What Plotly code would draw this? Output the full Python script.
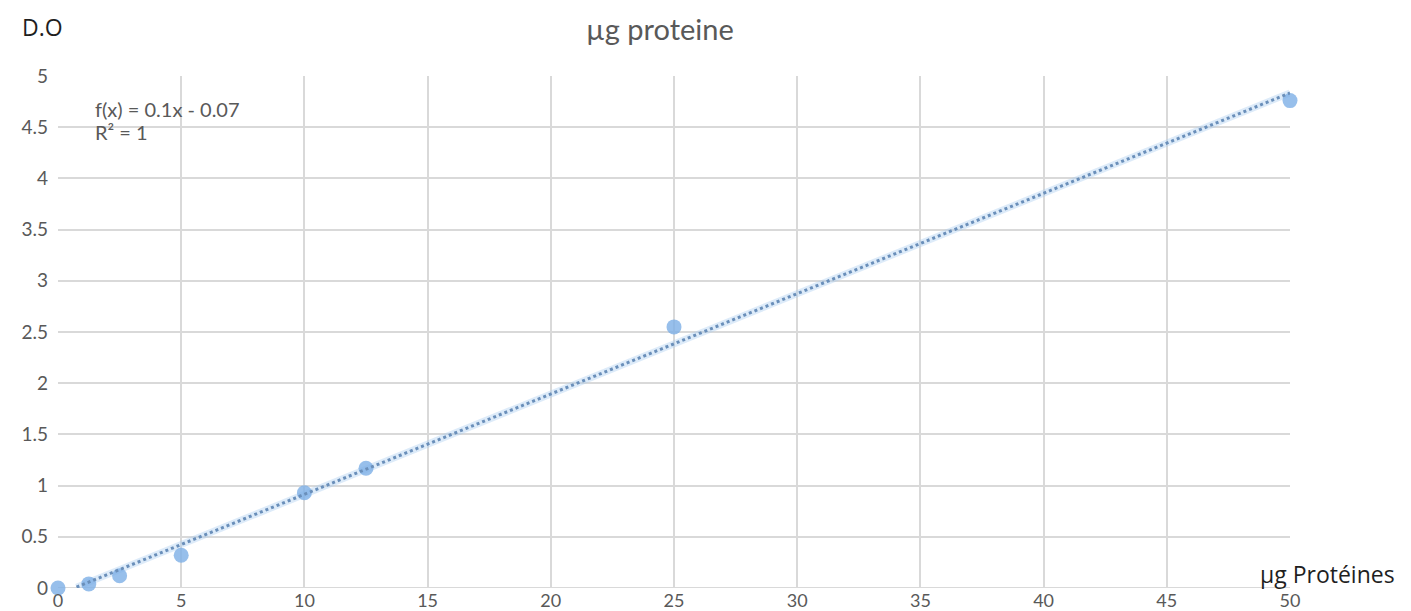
import numpy as np
import plotly.graph_objects as go

x_vals = [0, 1.25, 2.5, 5, 10, 12.5, 25, 50]
y_vals = [0.0, 0.04, 0.12, 0.32, 0.93, 1.17, 2.55, 4.76]
x_ticks = [0, 5, 10, 15, 20, 25, 30, 35, 40, 45, 50]
y_ticks = [0, 0.5, 1, 1.5, 2, 2.5, 3, 3.5, 4, 4.5, 5]

slope, intercept = np.polyfit(x_vals, y_vals, 1)
x_fit = np.linspace(min(x_vals), max(x_vals), 400)
y_fit = slope * x_fit + intercept
mask = y_fit >= 0
x_fit, y_fit = x_fit[mask], y_fit[mask]

fig = go.Figure()
fig.add_trace(go.Scatter(x=x_fit, y=y_fit, mode="lines",
                         line=dict(color="rgba(170,205,240,0.4)", width=7),
                         showlegend=False, hoverinfo="skip"))
fig.add_trace(go.Scatter(x=x_vals, y=y_vals, mode="markers",
                         marker=dict(size=15, color="rgba(125,175,230,0.8)", line=dict(width=0)),
                         showlegend=False, cliponaxis=False))
fig.add_trace(go.Scatter(x=x_fit, y=y_fit, mode="lines",
                         line=dict(color="#6a8fba", width=3, dash="dot"),
                         showlegend=False))

fig.update_layout(
    width=1411, height=611,
    margin=dict(l=50, r=129, t=68, b=31, autoexpand=False),
    paper_bgcolor="white", plot_bgcolor="white",
    font=dict(family="Lato", color="#595959", size=19),
)
fig.update_xaxes(range=[0, 50], tickvals=x_ticks, ticktext=[str(t) for t in x_ticks],
                 showgrid=True, gridcolor="#d9d9d9", gridwidth=2, zeroline=False,
                 showline=False, ticks="", ticklabelstandoff=0, automargin=False,
                 tickfont=dict(size=18))
fig.update_yaxes(range=[0, 5], tickvals=y_ticks, ticktext=[str(t) for t in y_ticks],
                 showgrid=True, gridcolor="#d9d9d9", gridwidth=2, zeroline=False,
                 showline=False, ticks="", ticklabelstandoff=9, automargin=False,
                 tickfont=dict(size=19))
fig.add_shape(type="line", xref="x", yref="y", x0=0, x1=50, y0=0, y1=0,
              line=dict(color="#d9d9d9", width=2), layer="below")

fig.add_annotation(text="µg proteine", xref="paper", yref="paper", x=0.4886, y=1.13,
                   xanchor="center", yanchor="top", showarrow=False,
                   font=dict(family="Lato", size=29, color="#595959"))
fig.add_annotation(text="f(x) = 0.1x - 0.07", xref="paper", yref="paper",
                   x=0.0284, y=0.935, xanchor="left", yanchor="middle", showarrow=False,
                   font=dict(family="Lato", size=20, color="#595959"))
fig.add_annotation(text="R² = 1", xref="paper", yref="paper",
                   x=0.0284, y=0.891, xanchor="left", yanchor="middle", showarrow=False,
                   font=dict(family="Lato", size=20, color="#595959"))
fig.add_annotation(text="D.O", xref="paper", yref="paper", x=-0.0308, y=1.0957,
                   xanchor="left", yanchor="middle", showarrow=False,
                   font=dict(family="Open Sans", size=23, color="#1f1f1f"))
fig.add_annotation(text="µg Protéines", xref="paper", yref="paper", x=0.974, y=0.0273,
                   xanchor="left", yanchor="middle", showarrow=False,
                   font=dict(family="Open Sans", size=23, color="#1f1f1f"))

fig.write_html("out.html")
